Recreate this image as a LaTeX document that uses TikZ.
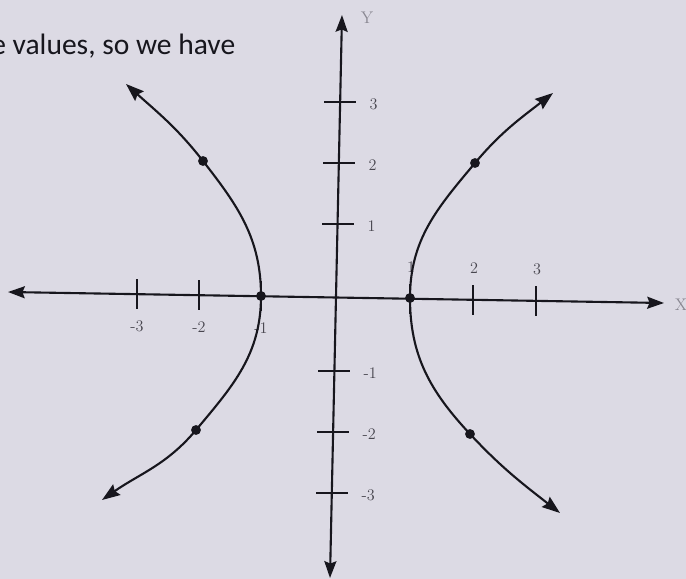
\documentclass[tikz,border=0pt]{standalone}
\usepackage{fontspec}
\newfontfamily\notefont{Carlito}
\usetikzlibrary{arrows.meta}
\definecolor{paperbg}{HTML}{DCDAE4}
\definecolor{inkdark}{HTML}{17161D}
\definecolor{inklabel}{HTML}{48464F}
\definecolor{inkfaint}{HTML}{8A8892}
\tikzset{
  axisline/.style={
    {Stealth[length=4.2mm,width=3mm,inset=0.6mm]}-{Stealth[length=4.2mm,width=3mm,inset=0.6mm]},
    line width=1.5pt,
    draw=inkdark
  },
  branch/.style={
    -{Stealth[length=4.5mm,width=3.2mm,inset=0.6mm]},
    line width=1.5pt,
    draw=inkdark
  },
  tickmark/.style={
    line width=1.4pt,
    draw=inkdark
  },
  ticklabel/.style={
    font=\fontsize{11.5}{13}\selectfont,
    text=inklabel,
    inner sep=1pt
  },
  axislabel/.style={
    font=\fontsize{12}{14}\selectfont,
    text=inkfaint,
    inner sep=1pt
  },
  pointdot/.style={
    circle,
    fill=inkdark,
    inner sep=0pt,
    minimum size=7pt
  },
  notetext/.style={
    font=\notefont\fontsize{21}{25}\selectfont,
    text=inkdark,
    inner sep=0pt
  }
}

\begin{document}
\begin{tikzpicture}[x=0.025cm,y=-0.025cm]

  % page and paper
  \fill[paperbg] (0,0) rectangle (686,579);
  \useasboundingbox (0,0) rectangle (686,579);

  \node[notetext, anchor=base west] (note) at (-9,54) {e values, so we have};

  % axes
  \coordinate (xleft) at (8,292);
  \coordinate (xright) at (664,303);
  \coordinate (ytop) at (342,15);
  \coordinate (ybottom) at (330,578);
  \draw[axisline] (xleft) -- (xright);
  \draw[axisline] (ytop) -- (ybottom);
  \node[axislabel] (xlab) at (681,305) {X};
  \node[axislabel] (ylab) at (367,18) {Y};

  % ticks on the x axis
  \foreach \xpos/\ypos/\lab in {137/294/-3,199/295/-2,261/296/-1}{
    \draw[tickmark] (\xpos,\ypos-15) -- (\xpos,\ypos+15);
    \node[ticklabel] at (\xpos,\ypos+32) {\lab};
  }
  \foreach \xpos/\ypos/\lab in {410/299/1,473/300/2,536/301/3}{
    \draw[tickmark] (\xpos,\ypos-15) -- (\xpos,\ypos+15);
    \node[ticklabel] at (\xpos+1,\ypos-32) {\lab};
  }

  % ticks on the y axis
  \foreach \ypos/\xpos/\lab in {102/340/3,163/339/2,224/338/1,371/334/-1,432/333/-2,493/332/-3}{
    \draw[tickmark] (\xpos-16,\ypos) -- (\xpos+16,\ypos);
    \node[ticklabel, anchor=west] at (\xpos+28,\ypos+2) {\lab};
  }

  % points of the curve
  \coordinate (vR) at (410,298);
  \coordinate (vL) at (261,296);
  \coordinate (pRU) at (475,163);
  \coordinate (pLU) at (203,161);
  \coordinate (pRD) at (470,434);
  \coordinate (pLD) at (196,430);
  \coordinate (tRU) at (553,93);
  \coordinate (tLU) at (126,84);
  \coordinate (tRD) at (560,513);
  \coordinate (tLD) at (102,500);

  % the two branches
  \draw[branch] (vR) to[out=90,in=-130] (pRU) to[out=50,in=-142] (tRU);
  \draw[branch] (vR) to[out=-90,in=133] (pRD) to[out=-47,in=142] (tRD);
  \draw[branch] (vL) to[out=90,in=-52] (pLU) to[out=128,in=-42] (tLU);
  \draw[branch] (vL) to[out=-90,in=50] (pLD) to[out=-130,in=35] (tLD);

  \node[pointdot] (dRU) at (pRU) {};
  \node[pointdot] (dRD) at (pRD) {};
  \node[pointdot] (dLU) at (pLU) {};
  \node[pointdot] (dLD) at (pLD) {};
  \node[pointdot] (dvR) at (vR) {};
  \node[pointdot] (dvL) at (vL) {};
\end{tikzpicture}
\end{document}
